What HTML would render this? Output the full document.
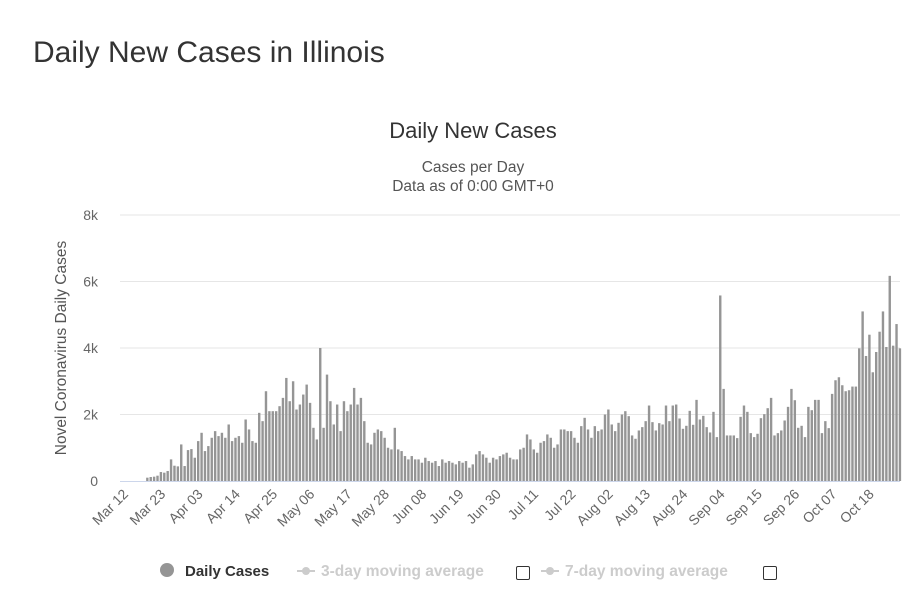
<!DOCTYPE html>
<html><head><meta charset="utf-8"><style>
body{margin:0;background:#fff;width:917px;height:615px;overflow:hidden;font-family:"Liberation Sans",sans-serif}
h1{position:absolute;left:33px;top:36px;margin:0;font-weight:normal;font-size:30px;color:#333}
</style></head><body>
<h1>Daily New Cases in Illinois</h1>
<svg id="c" width="917" height="615" style="position:absolute;left:0;top:0"></svg>
<script>
const startDate = [2020, 2, 12];
const dailyCases = [
0,0,0,0,0,0,100,120,130,160,270,
250,300,650,460,440,1100,450,930,960,700,1200,
1450,900,1050,1300,1500,1350,1450,1300,1700,1200,1300,
1350,1150,1850,1550,1200,1150,2050,1800,2700,2100,2100,
2100,2250,2500,3100,2400,3000,2150,2300,2600,2900,2350,
1600,1250,4000,1600,3200,2400,1700,2300,1500,2400,2100,
2300,2800,2300,2500,1800,1150,1100,1450,1550,1500,1300,
1000,950,1600,950,900,750,650,750,650,650,550,
700,600,550,600,450,650,550,600,550,500,600,
550,600,400,500,800,900,800,700,550,700,650,
750,800,850,700,650,650,950,1000,1400,1250,950,
850,1150,1200,1400,1300,1000,1100,1550,1550,1500,1500,
1300,1150,1650,1900,1550,1300,1650,1500,1550,2000,2150,
1700,1500,1750,2000,2100,1950,
1370,1270,1520,1620,1800,2270,1770,1520,1740,1700,2270,1800,2270,2300,1880,1570,1660,2110,1690,2440,
1850,1960,1620,1460,2080,1320,5580,2770,1370,1370,1370,1290,1930,2270,2080,1440,1320,1420,1890,2010,
2190,2500,1370,1440,1520,1820,2230,2770,2430,1600,1660,1320,2230,2130,2440,2440,1440,1800,1590,2620,
3030,3120,2880,2700,2730,2840,2840,3990,5100,3760,4400,3270,3880,4490,5100,4030,6170,4070,4720,3990];
const yTicks = [0,2000,4000,6000,8000];
const yTickLabels = ["0","2k","4k","6k","8k"];
const tickEvery = 11;

const NS="http://www.w3.org/2000/svg", svg=document.getElementById('c');
const X0=127, STEP=3.39, Y0=481, YTOP=215, YMAX=8000;
const x=i=>X0+i*STEP, y=v=>Y0-(v/YMAX)*(Y0-YTOP);
function mk(t,a,txt){const e=document.createElementNS(NS,t);for(const k in a)e.setAttribute(k,a[k]);if(txt!=null)e.textContent=txt;svg.appendChild(e);return e;}
const months=["Jan","Feb","Mar","Apr","May","Jun","Jul","Aug","Sep","Oct","Nov","Dec"];

let t=mk('text',{x:473,y:138,'text-anchor':'middle','font-size':22,fill:'#333'},'Daily New Cases');


t=mk('text',{x:473,y:172,'text-anchor':'middle','font-size':15.5,fill:'#555'},'Cases per Day');


t=mk('text',{x:473,y:191,'text-anchor':'middle','font-size':15.5,fill:'#555'},'Data as of 0:00 GMT+0');


t=mk('text',{x:0,y:0,'text-anchor':'middle','font-size':15.5,fill:'#555',transform:'translate(66,348) rotate(-90)'},'Novel Coronavirus Daily Cases');



yTicks.forEach((v,i)=>{
  if(i>0){const g=mk('line',{x1:120,x2:900,y1:y(v),y2:y(v),stroke:'#e6e6e6','stroke-width':1});
  
  }
  const l=mk('text',{x:98,y:y(v)+5,'text-anchor':'end','font-size':14,fill:'#666'},yTickLabels[i]);
  
  
});
dailyCases.forEach((v,i)=>{
  const b=mk('rect',{x:x(i)-1.2,y:y(v),width:2.4,height:Y0-y(v),fill:'#959595'});
  
  
});
const ax=mk('line',{x1:120,x2:900,y1:Y0+0.5,y2:Y0+0.5,stroke:'#ccd6eb','stroke-width':1});


for(let i=0;i<dailyCases.length;i+=tickEvery){
  const d=new Date(startDate[0],startDate[1],startDate[2]+i);
  const lab=months[d.getMonth()]+' '+String(d.getDate()).padStart(2,'0');
  const tx=x(i)+2, ty=Y0+14;
  const l=mk('text',{x:tx,y:ty,'text-anchor':'end','font-size':14,fill:'#666',transform:`rotate(-45 ${tx} ${ty})`},lab);
  
  
}
// legend
let c=mk('circle',{cx:167,cy:570,r:7,fill:'#959595'});


t=mk('text',{x:185,y:576,'font-size':15,'font-weight':'bold',fill:'#333'},'Daily Cases');


[[297,'3-day moving average',516],[541,'7-day moving average',763]].forEach(([lx,txt,cb],k)=>{
  const ln=mk('line',{x1:lx,x2:lx+18,y1:571,y2:571,stroke:'#ccc','stroke-width':2});
  
  
  const dot=mk('circle',{cx:lx+9,cy:571,r:4,fill:'#ccc'});
  
  
  const tt=mk('text',{x:lx+24,y:576,'font-size':15.5,'font-weight':'bold',fill:'#ccc'},txt);
  
  
  const r=mk('rect',{x:cb+0.5,y:566.5,width:13,height:13,rx:1.5,fill:'#fff',stroke:'#333','stroke-width':1});
  
  
});
</script>
</body></html>
